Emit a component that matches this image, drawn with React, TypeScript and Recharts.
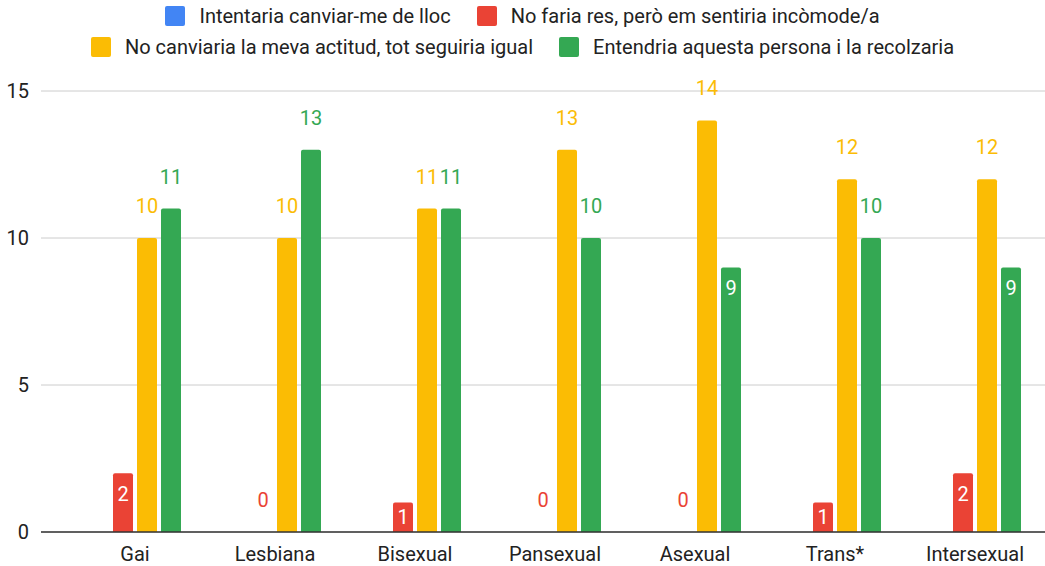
import React from 'react';
import { BarChart, Bar, XAxis, YAxis, CartesianGrid, Legend, LabelList } from 'recharts';

const categories = ['Gai', 'Lesbiana', 'Bisexual', 'Pansexual', 'Asexual', 'Trans*', 'Intersexual'];
const seriesNames = [
  'Intentaria canviar-me de lloc',
  'No faria res, però em sentiria incòmode/a',
  'No canviaria la meva actitud, tot seguiria igual',
  'Entendria aquesta persona i la recolzaria',
];
const blueValues: (number | null)[] = [null, null, null, null, null, null, null];
const redValues = [2, 0, 1, 0, 0, 1, 2];
const yellowValues = [10, 10, 11, 13, 14, 12, 12];
const greenValues = [11, 13, 11, 10, 9, 10, 9];
const yTicks = [0, 5, 10, 15];

const COLORS = ['#4285F4', '#EA4335', '#FBBC04', '#34A853'];
const FONT = 'Roboto, "Noto Sans", Arial, sans-serif';

const data = categories.map((c, i) => ({
  cat: c,
  s0: blueValues[i],
  s1: redValues[i],
  s2: yellowValues[i],
  s3: greenValues[i],
}));

const makeLabel = (color: string) => (props: any) => {
  const { x, y, width, height, value } = props;
  if (value === null || value === undefined) return null;
  const v = Number(value);
  const inside = v > 0 && v < 10;
  const cx = Number(x) + Number(width) / 2;
  const top = Number(y);
  const h = Number(height);
  let baseline: number;
  if (inside) {
    baseline = h >= 40 ? top + 28 : top + h / 2 + 7;
  } else {
    baseline = top - 25;
  }
  return (
    <text
      x={cx}
      y={baseline}
      textAnchor="middle"
      fill={inside ? '#ffffff' : color}
      fontSize={20}
      fontFamily={FONT}
    >
      {v}
    </text>
  );
};

const renderLegend = () => {
  const items = seriesNames.map((n, i) => ({ name: n, color: COLORS[i] }));
  const rows = [items.slice(0, 2), items.slice(2, 4)];
  return (
    <div style={{ fontFamily: FONT, fontSize: 20, color: '#222' }}>
      {rows.map((row, i) => (
        <div
          key={i}
          style={{ display: 'flex', justifyContent: 'center', alignItems: 'center', height: 31 }}
        >
          {row.map((item, j) => (
            <div key={j} style={{ display: 'flex', alignItems: 'center', margin: '0 13px' }}>
              <span
                style={{
                  display: 'inline-block',
                  width: 20,
                  height: 20,
                  background: item.color,
                  borderRadius: 2,
                  marginRight: 14,
                }}
              />
              <span style={{ whiteSpace: 'nowrap' }}>{item.name}</span>
            </div>
          ))}
        </div>
      ))}
    </div>
  );
};

export default function App() {
  return (
    <div style={{ position: 'absolute', left: 0, top: 0, background: '#fff' }}>
      <BarChart
        width={1045}
        height={566}
        data={data}
        margin={{ top: 29, right: 0, bottom: 0, left: 0 }}
        barGap={4}
        barSize={20}
      >
        <CartesianGrid vertical={false} stroke="#cccccc" strokeWidth={1} />
        <XAxis
          dataKey="cat"
          padding={{ left: 24, right: 0 }}
          tickLine={false}
          tickSize={0}
          axisLine={{ stroke: '#333333', strokeWidth: 1.5 }}
          tick={{ fontSize: 20, fill: '#222', fontFamily: FONT }}
          tickMargin={15}
          height={34}
          interval={0}
        />
        <YAxis
          domain={[0, 15]}
          ticks={yTicks}
          width={41}
          axisLine={false}
          tickLine={false}
          tickSize={0}
          tickMargin={12}
          tick={{ fontSize: 20, fill: '#222', fontFamily: FONT }}
        />
        <Legend
          verticalAlign="top"
          align="center"
          content={renderLegend}
          wrapperStyle={{ top: 0, left: 0, width: 1045, height: 62 }}
        />
        <Bar dataKey="s0" name={seriesNames[0]} fill={COLORS[0]} isAnimationActive={false} radius={[2, 2, 0, 0]} />
        <Bar
          dataKey="s1"
          name={seriesNames[1]}
          fill={COLORS[1]}
          isAnimationActive={false}
          radius={[2, 2, 0, 0]}
          minPointSize={0.01}
        >
          <LabelList dataKey="s1" content={makeLabel(COLORS[1])} />
        </Bar>
        <Bar dataKey="s2" name={seriesNames[2]} fill={COLORS[2]} isAnimationActive={false} radius={[2, 2, 0, 0]}>
          <LabelList dataKey="s2" content={makeLabel(COLORS[2])} />
        </Bar>
        <Bar dataKey="s3" name={seriesNames[3]} fill={COLORS[3]} isAnimationActive={false} radius={[2, 2, 0, 0]}>
          <LabelList dataKey="s3" content={makeLabel(COLORS[3])} />
        </Bar>
      </BarChart>
    </div>
  );
}
